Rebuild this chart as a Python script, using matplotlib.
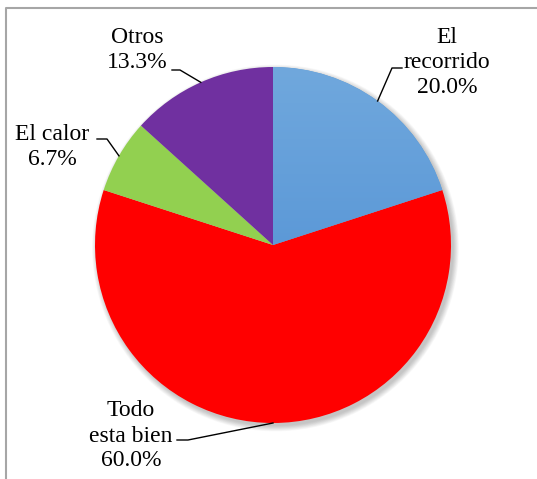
import numpy as np
import matplotlib.pyplot as plt
from matplotlib.patches import Circle

labels = ['El\nrecorrido', 'Todo\nesta bien', 'El calor', 'Otros']
values = [20.0, 60.0, 6.7, 13.3]
colors = ['#5B9BD5', '#FF0000', '#92D050', '#7030A0']

# label layout (pixel coords): text centre and leader knee
text_pos = [(447, 62), (131, 436), (52, 147), (137, 50)]
knee_pos = [(392, 68), (188, 440), (107, 139), (180, 70)]
text_edge = [(402, 68), (177, 440), (97, 139), (172, 70)]

plt.rcParams['font.family'] = 'serif'
plt.rcParams['font.serif'] = ['Liberation Serif', 'DejaVu Serif']

fig = plt.figure(figsize=(5.37, 4.79), dpi=100)
ax = fig.add_axes([0, 0, 1, 1])

cx, cy, r = 273, 245, 178

# soft shadow
for i in range(10):
    ax.add_patch(Circle((cx + 2.5, cy + 3), r + 0.6 * i, color='black',
                        alpha=0.025, lw=0, zorder=0))

wedges, _ = ax.pie(values, colors=colors, startangle=-90, counterclock=True,
                   center=(cx, cy), radius=r, frame=True,
                   wedgeprops=dict(linewidth=0, zorder=2))
ax.set_xlim(0, 537)
ax.set_ylim(479, 0)
ax.axis('off')

# vertical gradient on the blue slice
grad = np.linspace(0, 1, 256).reshape(-1, 1)
top = np.array([0x70, 0xA8, 0xDD]) / 255
bot = np.array([0x48, 0x8A, 0xD2]) / 255
img = top + grad[..., None] * (bot - top)
im = ax.imshow(img, extent=(cx - r, cx + r, cy + r, cy - r), aspect='auto',
               zorder=3, interpolation='bilinear')
im.set_clip_path(wedges[0])

for w, lab, v, tp, kp, te in zip(wedges, labels, values, text_pos, knee_pos, text_edge):
    mid = np.deg2rad((w.theta1 + w.theta2) / 2)
    ax_pt = (cx + r * np.cos(mid), cy + r * np.sin(mid))
    ax.plot([te[0], kp[0], ax_pt[0]], [te[1], kp[1], ax_pt[1]],
            color='black', lw=1, zorder=4)
    ax.text(tp[0], tp[1], f'{lab}\n{v:.1f}%', ha='center', va='center',
            fontsize=17, linespacing=1.25, zorder=5)

# chart border
ax.plot([5.5, 5.5, 537], [479, 7.5, 7.5], color='#A6A6A6', lw=1.5,
        clip_on=False, zorder=1)

fig.savefig('out.png', dpi=100)
